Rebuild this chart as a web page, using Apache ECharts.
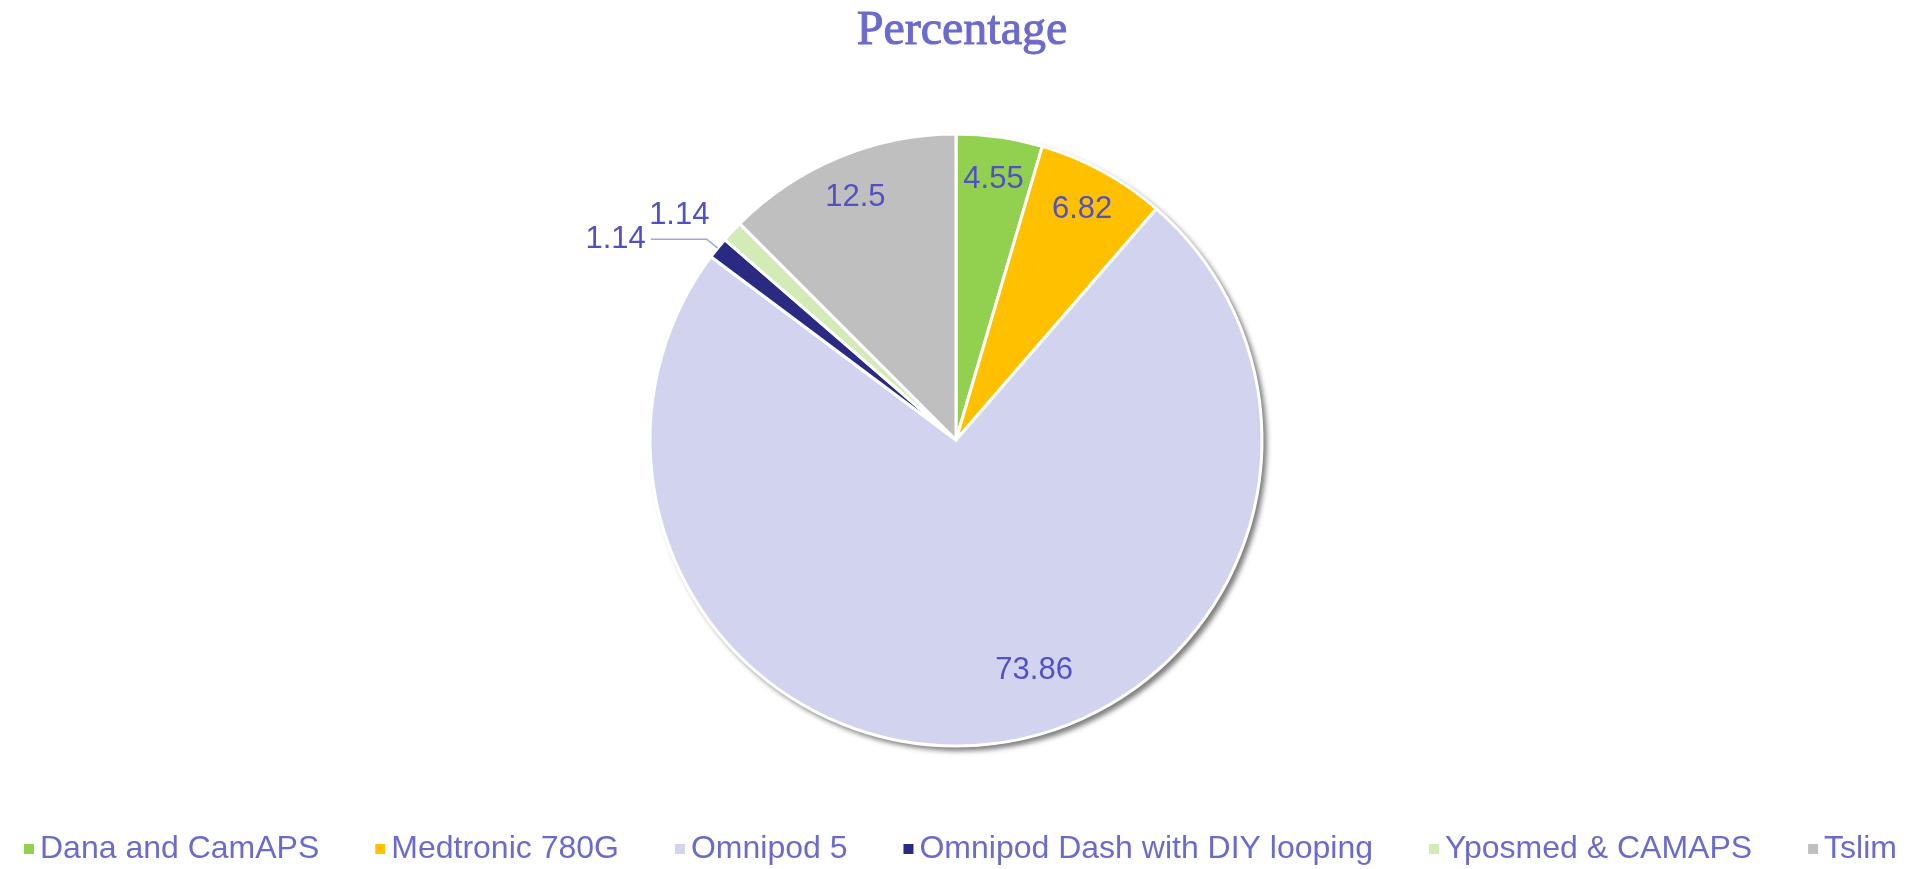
<!DOCTYPE html>
<html>
<head>
<meta charset="utf-8">
<title>Percentage</title>
<script src="https://cdn.jsdelivr.net/npm/echarts@6/dist/echarts.min.js"></script>
<style>
	html, body { margin: 0; padding: 0; background: #fff; }
	#pieEchart { width: 1924px; height: 869px; }
</style>
</head>
<body>
<div id="pieEchart"></div>
<script>
var categories = [ 'Dana and CamAPS', 'Medtronic 780G', 'Omnipod 5', 'Omnipod Dash with DIY looping', 'Yposmed & CAMAPS', 'Tslim' ];
var values = [ 4.55, 6.82, 73.86, 1.14, 1.14, 12.5 ];
var colors = [ '#92d050', '#ffc000', '#d2d3ef', '#2b2a82', '#d3ebb7', '#bfbfbf' ];

var myChart = echarts.init(document.getElementById('pieEchart'));

// 主饼图的数据
var pieData = [];
// 只用来放标签的透明环
var labelData = [];
for (var i = 0; i < categories.length; i++) {
	pieData.push({ name : categories[i], value : values[i] });
	var item = { name : categories[i], value : values[i] };
	if (i == 3) {
		// Omnipod Dash 标签在外面，有引导线
		item.label = { position : 'outside', align : 'right' };
		item.labelLine = { show : true, length : 14, length2 : 56, lineStyle : { color : '#a3a3e3', width : 1.5 } };
	} else if (i == 4) {
		item.label = { position : 'outside' };
		item.labelLine = { show : false, length : 24, length2 : 0 };
	}
	labelData.push(item);
}

var option = {
	color : colors,
	animation : false,
	title : {
		text : 'Percentage',
		left : 'center',
		top : 2,
		textStyle : {
			fontFamily : 'Liberation Serif',
			fontSize : 48,
			fontWeight : 'normal',
			color : '#6b6bcc',
			textBorderColor : '#6b6bcc',
			textBorderWidth : 1
		}
	},
	legend : {
		data : categories,
		top : 833,
		left : 22,
		right : 0,
		padding : 0,
		icon : 'rect',
		itemWidth : 12,
		itemHeight : 12,
		itemGap : 54,
		textStyle : {
			fontFamily : 'Liberation Sans',
			fontSize : 32,
			color : '#6b6bcc'
		}
	},
	series : [ {
		// 主饼图
		type : 'pie',
		z : 3,
		center : [ 956, 440 ],
		radius : [ 0, 306 ],
		startAngle : 90,
		clockwise : true,
		silent : true,
		label : { show : false },
		labelLine : { show : false },
		itemStyle : {
			borderColor : '#ffffff',
			borderWidth : 3
		},
		data : pieData
	}, {
		// 底下一层白色的饼，只负责外圈阴影
		type : 'pie',
		z : 1,
		center : [ 956, 440 ],
		radius : [ 0, 307 ],
		startAngle : 90,
		clockwise : true,
		silent : true,
		label : { show : false },
		labelLine : { show : false },
		itemStyle : {
			color : '#ffffff',
			borderWidth : 0,
			shadowBlur : 5,
			shadowOffsetX : 4,
			shadowOffsetY : 4,
			shadowColor : 'rgba(0,0,0,0.5)'
		},
		data : pieData
	}, {
		// 透明环，只放标签
		type : 'pie',
		z : 4,
		center : [ 956, 440 ],
		radius : [ 214, 306 ],
		startAngle : 90,
		clockwise : true,
		silent : true,
		avoidLabelOverlap : false,
		itemStyle : { color : 'rgba(0,0,0,0)', borderWidth : 0 },
		label : {
			show : true,
			position : 'inside',
			fontFamily : 'Liberation Sans',
			fontSize : 31,
			color : '#5151c4',
			formatter : '{c}'
		},
		labelLine : { show : false },
		// 大块的标签位置往右上挪一点
		labelLayout : function (params) {
			if (params.dataIndex == 2) {
				return { dx : 50, dy : -31 };
			}
		},
		data : labelData
	} ]
};

myChart.setOption(option);
</script>
</body>
</html>
